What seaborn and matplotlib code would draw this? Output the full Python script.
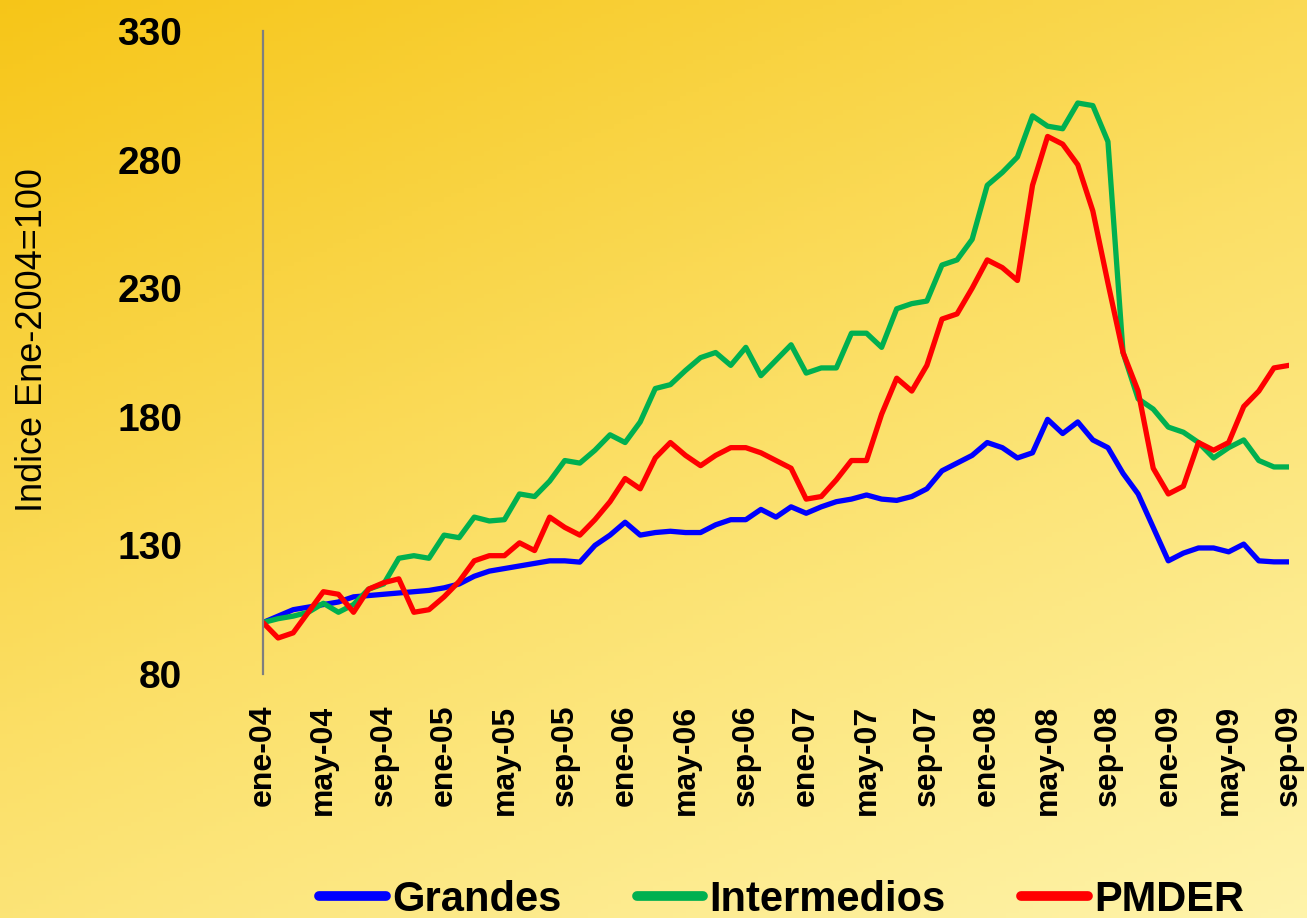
import numpy as np
import pandas as pd
import matplotlib
matplotlib.use("Agg")
import matplotlib.pyplot as plt
import seaborn as sns
from matplotlib.lines import Line2D

# ---------------- data ----------------
meses = ["ene", "feb", "mar", "abr", "may", "jun", "jul", "ago", "sep", "oct", "nov", "dic"]
fechas = [f"{m}-{str(a)[2:]}" for a in range(2004, 2010) for m in meses][:69]

grandes = [100, 102.5, 105, 106, 107, 108, 110, 110.5, 111, 111.5, 112, 112.5,
           113.5, 115, 118, 120, 121, 122, 123, 124, 124, 123.5, 130, 134,
           139, 134, 135, 135.5, 135, 135, 138, 140, 140, 144, 141, 145,
           142.5, 145, 147, 148, 149.6, 148, 147.5, 149, 152, 159, 162, 165,
           170, 168, 164, 166, 179, 173.5, 178, 171, 168, 158, 150, 137,
           124, 127, 129, 129, 127.5, 130.5, 124, 123.6, 123.6]

intermedios = [100, 101.5, 102.5, 104, 107.5, 104, 107, 113, 115, 125, 126, 125,
               134, 133, 141, 139.5, 140, 150, 149, 155, 163, 162, 167, 173,
               170, 178, 191, 192.5, 198, 203, 205, 200, 207, 196, 202, 208,
               197, 199, 199, 212.5, 212.5, 207, 222, 224, 225, 239, 241, 249,
               270, 275, 281, 297, 293, 292, 302, 301, 287, 205, 187, 183,
               176, 174, 170, 164, 168, 171, 163, 160.5, 160.5]

pmder = [100, 94, 96, 104, 112, 111, 104, 113, 115.5, 117, 104, 105,
         110, 116, 124, 126, 126, 131, 128, 141, 137, 134, 140, 147,
         156, 152, 164, 170, 165, 161, 165, 168, 168, 166, 163, 160,
         148, 149, 155.5, 163, 163, 181, 195, 190, 200, 218, 220, 230,
         241, 238, 233, 270, 289, 286, 278, 260, 232, 205, 190, 160,
         150, 153, 170, 167, 170, 184, 190, 199, 200]

series_names = ["Grandes", "Intermedios", "PMDER"]
series_colors = ["#0000FF", "#00B050", "#FF0000"]
yticks = [80, 130, 180, 230, 280, 330]
tick_labels = ["ene-04", "may-04", "sep-04", "ene-05", "may-05", "sep-05",
               "ene-06", "may-06", "sep-06", "ene-07", "may-07", "sep-07",
               "ene-08", "may-08", "sep-08", "ene-09", "may-09", "sep-09"]

df = pd.DataFrame({
    "mes": list(range(len(fechas))) * 3,
    "fecha": fechas * 3,
    "valor": grandes + intermedios + pmder,
    "serie": [series_names[0]] * len(grandes) + [series_names[1]] * len(intermedios)
             + [series_names[2]] * len(pmder),
})

# ---------------- figure ----------------
sns.set_style("white")
plt.rcParams["font.family"] = ["Liberation Sans", "DejaVu Sans"]
plt.rcParams["text.color"] = "black"
plt.rcParams["axes.labelcolor"] = "black"
plt.rcParams["xtick.color"] = "black"
plt.rcParams["ytick.color"] = "black"

W, H = 1307, 918
fig = plt.figure(figsize=(W / 100, H / 100), dpi=100)

# gradient background
bg = fig.add_axes([0, 0, 1, 1], zorder=0)
ny, nx = 200, 200
yy, xx = np.mgrid[0:1:ny * 1j, 0:1:nx * 1j]
t = np.clip(0.62 * yy + 0.38 * xx, 0, 1)
c0 = np.array([0.967, 0.775, 0.095])
c1 = np.array([0.985, 0.875, 0.400])
c2 = np.array([0.998, 0.955, 0.670])
t3 = t[..., None]
img = np.where(t3 < 0.5, c0 + (c1 - c0) * (t3 / 0.5), c1 + (c2 - c1) * ((t3 - 0.5) / 0.5))
bg.imshow(img, aspect="auto", extent=[0, 1, 0, 1], origin="upper")
bg.axis("off")

left, right = 263 / W, 1289 / W
bottom, top = 1 - 674 / H, 1 - 31 / H
ax = fig.add_axes([left, bottom, right - left, top - bottom], zorder=1)
ax.patch.set_alpha(0)

sns.lineplot(data=df, x="mes", y="valor", hue="serie", palette=series_colors,
             hue_order=series_names, linewidth=3.8, ax=ax, legend=False)

ax.set_xlim(0, len(fechas) - 1)
ax.set_ylim(80, 330)
ax.set_yticks(yticks)
ax.set_yticklabels([str(v) for v in yticks], fontsize=28, fontweight="bold")
ax.set_xticks(list(range(0, len(fechas), 4)))
ax.set_xticklabels(tick_labels, rotation=90, fontsize=23, fontweight="bold")
ax.tick_params(axis="y", length=8, width=1, color="black", pad=50, direction="out")
ax.tick_params(axis="x", length=0, pad=22)

for s in ["top", "right", "bottom"]:
    ax.spines[s].set_visible(False)
ax.spines["left"].set_color("#7F7F7F")
ax.spines["left"].set_linewidth(1.6)

ax.set_xlabel("")
ax.set_ylabel("Indice Ene-2004=100", fontsize=26)
ax.yaxis.set_label_coords(-0.208, 0.52)

handles = [Line2D([0], [0], color=c, linewidth=7) for c in series_colors]
fig.legend(handles, series_names, loc="center", ncol=3,
           bbox_to_anchor=(0.598, 0.020), frameon=False,
           handlelength=1.6, handletextpad=0.15, columnspacing=1.8,
           prop={"size": 30, "weight": "bold"})

fig.savefig("out.png", dpi=100)
